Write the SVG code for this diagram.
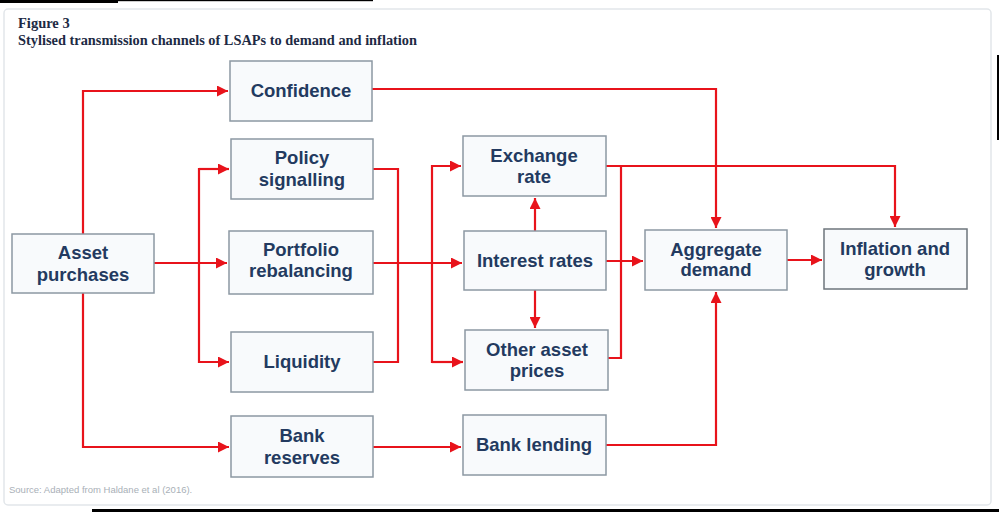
<svg xmlns="http://www.w3.org/2000/svg" width="999" height="512" viewBox="0 0 999 512">
<style>
.box{fill:#f8fafc;stroke:#8c98a3;stroke-width:1.5}
.lbl{font-family:"Liberation Sans",Arial,sans-serif;font-weight:bold;font-size:18.5px;fill:#233a60;text-anchor:middle}
.ln{fill:none;stroke:#e8131b;stroke-width:2.2}
.ttl{font-family:"Liberation Serif","DejaVu Serif",serif;font-weight:bold;font-size:14.5px;fill:#1d2a44}
</style>
<defs>
<marker id="ah" viewBox="0 0 10 10" refX="10" refY="5" markerWidth="5" markerHeight="5" orient="auto" markerUnits="strokeWidth">
<path d="M0,0 L10,5 L0,10 z" fill="#e8131b"/>
</marker>
</defs>
<rect x="0" y="0" width="999" height="512" fill="#ffffff"/>
<rect x="4" y="9" width="987" height="496" rx="4" fill="#ffffff" stroke="#e2e6ea" stroke-width="1.5"/>
<rect x="0" y="0" width="118" height="3" fill="#000"/>
<rect x="118" y="0" width="255" height="1.2" fill="#000"/>
<rect x="997" y="55" width="2" height="85" fill="#000"/>
<rect x="92" y="509" width="907" height="3" fill="#000"/>
<text class="ttl" x="18" y="28">Figure 3</text>
<text class="ttl" x="18" y="45" textLength="399" lengthAdjust="spacingAndGlyphs">Stylised transmission channels of LSAPs to demand and inflation</text>
<g id="connectors">
<polyline class="ln" points="83,234 83,91 228,91" marker-end="url(#ah)"/>
<polyline class="ln" points="83,293 83,447 229,447" marker-end="url(#ah)"/>
<polyline class="ln" points="154,263 227,263" marker-end="url(#ah)"/>
<polyline class="ln" points="229,169 199,169 199,362 229,362" marker-end="url(#ah)"/>
<polyline class="ln" points="199,169 229,169" marker-end="url(#ah)"/>
<polyline class="ln" points="373,169 398,169 398,362 373,362"/>
<polyline class="ln" points="373,263 462,263" marker-end="url(#ah)"/>
<polyline class="ln" points="461,362 432,362 432,166 461,166" marker-end="url(#ah)"/>
<polyline class="ln" points="432,362 463,362" marker-end="url(#ah)"/>
<polyline class="ln" points="535,231 535,198" marker-end="url(#ah)"/>
<polyline class="ln" points="535,290 535,328" marker-end="url(#ah)"/>
<polyline class="ln" points="606,261 643,261" marker-end="url(#ah)"/>
<polyline class="ln" points="606,166 895,166 895,227" marker-end="url(#ah)"/>
<polyline class="ln" points="608,358 621,358 621,166"/>
<polyline class="ln" points="372,89 716,89 716,228" marker-end="url(#ah)"/>
<polyline class="ln" points="373,447 461,447" marker-end="url(#ah)"/>
<polyline class="ln" points="606,445 716,445 716,292" marker-end="url(#ah)"/>
<polyline class="ln" points="787,260 822,260" marker-end="url(#ah)"/>
</g>
<g id="asset-purchases"><rect class="box" x="12" y="234" width="142" height="59"/><text class="lbl" x="83" y="259">Asset</text><text class="lbl" x="83" y="281">purchases</text></g>
<g id="confidence"><rect class="box" x="230" y="61" width="142" height="60"/><text class="lbl" x="301" y="97">Confidence</text></g>
<g id="policy-signalling"><rect class="box" x="231" y="139" width="142" height="60"/><text class="lbl" x="302" y="164">Policy</text><text class="lbl" x="302" y="186">signalling</text></g>
<g id="portfolio-rebalancing"><rect class="box" x="229" y="231" width="144" height="63"/><text class="lbl" x="301" y="256">Portfolio</text><text class="lbl" x="301" y="277">rebalancing</text></g>
<g id="liquidity"><rect class="box" x="231" y="332" width="142" height="60"/><text class="lbl" x="302" y="368">Liquidity</text></g>
<g id="bank-reserves"><rect class="box" x="231" y="416" width="142" height="61"/><text class="lbl" x="302" y="442">Bank</text><text class="lbl" x="302" y="464">reserves</text></g>
<g id="exchange-rate"><rect class="box" x="463" y="136" width="143" height="60"/><text class="lbl" x="534" y="162">Exchange</text><text class="lbl" x="534" y="183">rate</text></g>
<g id="interest-rates"><rect class="box" x="464" y="231" width="142" height="59"/><text class="lbl" x="535" y="267">Interest rates</text></g>
<g id="other-asset-prices"><rect class="box" x="465" y="330" width="143" height="60"/><text class="lbl" x="537" y="356">Other asset</text><text class="lbl" x="537" y="377">prices</text></g>
<g id="bank-lending"><rect class="box" x="463" y="415" width="143" height="60"/><text class="lbl" x="534" y="451">Bank lending</text></g>
<g id="aggregate-demand"><rect class="box" x="645" y="230" width="142" height="60"/><text class="lbl" x="716" y="256">Aggregate</text><text class="lbl" x="716" y="276">demand</text></g>
<g id="inflation-growth"><rect class="box" x="824" y="229" width="143" height="60" style="stroke:#6e757c"/><text class="lbl" x="895" y="255">Inflation and</text><text class="lbl" x="895" y="276">growth</text></g>
<text x="9" y="493" font-family="'Liberation Sans',Arial,sans-serif" font-size="9.5px" fill="#a9b0b7">Source: Adapted from Haldane et al (2016).</text>
</svg>
